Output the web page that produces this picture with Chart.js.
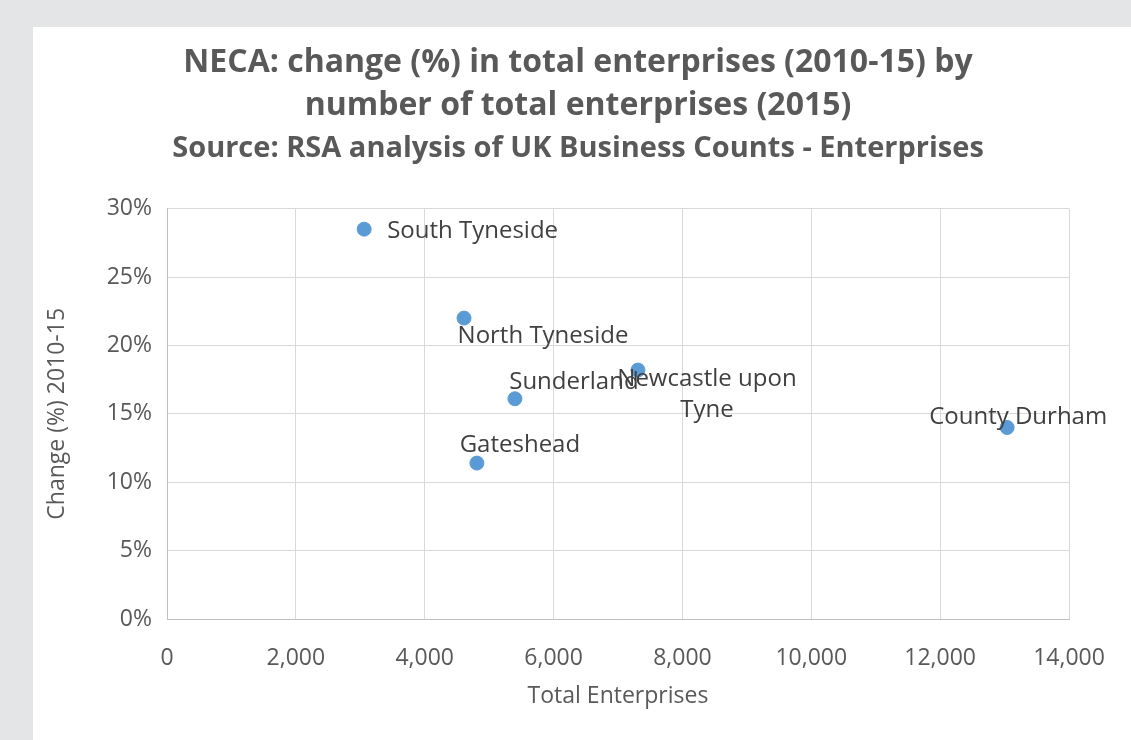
<!DOCTYPE html>
<html>
<head>
<meta charset="utf-8">
<script src="https://cdn.jsdelivr.net/npm/chart.js@4.4.1/dist/chart.umd.min.js"></script>
<style>
  html, body { margin: 0; padding: 0; background: #e4e5e7; }
  #panel { position: absolute; left: 33px; top: 27px; width: 1098px; height: 713px; background: #ffffff; }
  canvas { display: block; }
</style>
</head>
<body>
<div id="panel"><canvas id="chart_neca" width="1098" height="713"></canvas></div>
<script>
// areas, enterprises in 2015, change 2010-15 (%)
var areaNames = ['South Tyneside', 'North Tyneside', 'Sunderland', 'Newcastle upon Tyne', 'Gateshead', 'County Durham'];
var labelLines = [['South Tyneside'], ['North Tyneside'], ['Sunderland'], ['Newcastle upon', 'Tyne'], ['Gateshead'], ['County Durham']];
var totalEnterprises = [3060, 4610, 5400, 7310, 4810, 13040];
var changePct = [28.5, 22.0, 16.1, 18.2, 11.4, 14.0];
var xTicks = [0, 2000, 4000, 6000, 8000, 10000, 12000, 14000];
var yTicks = [0, 5, 10, 15, 20, 25, 30];

// where each point label sits, relative to its marker (px)
var labelPlacement = [
    { dx: 23, dy: 2, align: 'left' },
    { dx: 79, dy: 18, align: 'center' },
    { dx: 59, dy: -17, align: 'center' },
    { dx: 69, dy: 9, align: 'center' },
    { dx: 43, dy: -18, align: 'center' },
    { dx: 11, dy: -10, align: 'center' }
];

var fontFamily = "'Open Sans', 'DejaVu Sans', sans-serif";
var textGrey = '#595959';

var points = totalEnterprises.map(function (v, i) {
    return { x: v, y: changePct[i] };
});

var chart_neca = new Chart(document.getElementById('chart_neca'), {
    type: 'scatter',
    data: {
        datasets: [
            {
                label: 'Change (%) 2010-15',
                data: points,
                backgroundColor: '#5b9bd5',
                borderColor: '#5b9bd5',
                pointRadius: 7,
                pointHoverRadius: 7
            }
        ]
    },
    options: {
        animation: false,
        responsive: false,
        devicePixelRatio: 1,
        layout: {
            padding: { top: 0, left: 0, right: 8, bottom: 0 }
        },
        plugins: {
            legend: { display: false },
            tooltip: { enabled: false },
            title: {
                display: true,
                text: ['NECA: change (%) in total enterprises (2010-15) by', 'number of total enterprises (2015)'],
                color: textGrey,
                font: { family: fontFamily, size: 32, weight: 'bold', lineHeight: 1.344 },
                padding: { top: 14, bottom: 5 }
            },
            subtitle: {
                display: true,
                text: 'Source: RSA analysis of UK Business Counts - Enterprises',
                color: textGrey,
                font: { family: fontFamily, size: 29, weight: 'bold', lineHeight: 1.16 },
                padding: { top: 0, bottom: 43 }
            }
        },
        scales: {
            x: {
                type: 'linear',
                min: 0,
                max: 14000,
                afterBuildTicks: function (scale) {
                    scale.ticks = xTicks.map(function (v) { return { value: v }; });
                },
                afterFit: function (scale) { scale.height = 121; },
                grid: { color: '#d9d9d9', drawTicks: false, lineWidth: 1 },
                border: { color: '#bfbfbf' },
                ticks: {
                    color: textGrey,
                    padding: 26,
                    maxRotation: 0,
                    font: { family: fontFamily, size: 23 },
                    callback: function (v) { return Number(v).toLocaleString('en-US'); }
                },
                title: {
                    display: true,
                    text: 'Total Enterprises',
                    color: textGrey,
                    font: { family: fontFamily, size: 23 },
                    padding: { top: 4, bottom: 30 }
                }
            },
            y: {
                type: 'linear',
                min: 0,
                max: 30,
                afterBuildTicks: function (scale) {
                    scale.ticks = yTicks.map(function (v) { return { value: v }; });
                },
                afterFit: function (scale) { scale.width = 134; },
                grid: { color: '#d9d9d9', drawTicks: false, lineWidth: 1 },
                border: { color: '#bfbfbf' },
                ticks: {
                    color: textGrey,
                    padding: 15,
                    font: { family: fontFamily, size: 23 },
                    callback: function (v) { return v + '%'; }
                },
                title: {
                    display: true,
                    text: 'Change (%) 2010-15',
                    color: textGrey,
                    font: { family: fontFamily, size: 23 },
                    padding: { top: 11, bottom: 4 }
                }
            },
            // empty right-hand strip so the plot area stops short of the panel edge
            yRight: {
                type: 'linear',
                axis: 'y',
                position: 'right',
                min: 0,
                max: 30,
                afterFit: function (scale) { scale.width = 54; },
                grid: { display: false, drawTicks: false },
                border: { display: false },
                ticks: { display: false }
            }
        }
    },
    plugins: [{
        id: 'pointLabels',
        afterDatasetsDraw: function (chart) {
            var ctx = chart.ctx;
            var meta = chart.getDatasetMeta(0);
            ctx.save();
            ctx.font = '24px ' + fontFamily;
            ctx.fillStyle = '#404040';
            ctx.textBaseline = 'middle';
            meta.data.forEach(function (el, i) {
                var p = labelPlacement[i];
                ctx.textAlign = p.align;
                labelLines[i].forEach(function (line, j) {
                    ctx.fillText(line, el.x + p.dx, el.y + p.dy + j * 31);
                });
            });
            ctx.restore();
        }
    }]
});
</script>
</body>
</html>
